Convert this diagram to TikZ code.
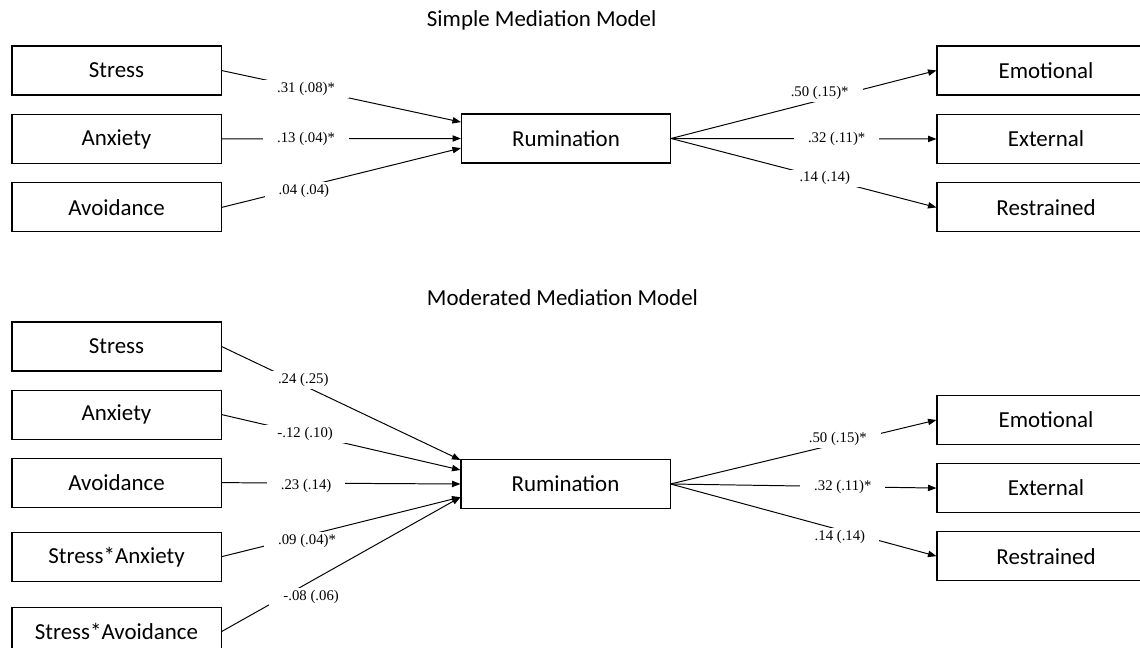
\documentclass[tikz,border=0pt]{standalone}
\usepackage{fontspec}
\setmainfont{Carlito}
\newfontfamily\coeffont{Liberation Serif}
\usetikzlibrary{arrows.meta, positioning}
\tikzset{
    box/.style={
        rectangle,
        draw=black,
        line width=0.75pt,
        minimum width=5.225cm,
        minimum height=1.225cm,
        fill=white,
        font=\fontsize{16.3}{19}\selectfont
    },
    outbox/.style={
        box,
        minimum width=5.45cm
    },
    heading/.style={
        anchor=west,
        font=\fontsize{16.3}{19}\selectfont
    },
    wire/.style={
        draw=black,
        line width=0.7pt,
        -{Triangle[length=6pt,width=4.5pt]}
    },
    coef/.style={
        fill=white,
        inner xsep=0.35cm,
        inner ysep=1.5pt,
        font=\coeffont\fontsize{10.5}{12}\selectfont
    }
}

\begin{document}
\begin{tikzpicture}[x=0.025cm, y=-0.025cm]
\useasboundingbox (0,0) rectangle (1140,648);
\clip (0,0) rectangle (1140,648);

% Simple mediation model
\node[heading] (title1) at (422,20) {Simple Mediation Model};

\node[box] (str1) at (116.5,70.5) {Stress};
\node[box, below=0.46cm of str1] (anx1) {Anxiety};
\node[box, below=0.46cm of anx1] (avo1) {Avoidance};

\node[box] (rum1) at (566,138.5) {Rumination};

\node[outbox] (emo1) at (1046,70.5) {Emotional};
\node[outbox, below=0.46cm of emo1] (ext1) {External};
\node[outbox, below=0.46cm of ext1] (res1) {Restrained};

\draw[wire] (str1.east) -- node[coef, pos=0.353] {.31 (.08)*} ([yshift=0.41cm]rum1.west);
\draw[wire] (anx1.east) -- node[coef, pos=0.353] {.13 (.04)*} (rum1.west);
\draw[wire] (avo1.east) -- node[coef, pos=0.344, yshift=-0.1cm] {.04 (.04)} ([yshift=-0.24cm]rum1.west);

\draw[wire] (rum1.east) -- node[coef, pos=0.56, yshift=0.175cm] {.50 (.15)*} (emo1.west);
\draw[wire] (rum1.east) -- node[coef, pos=0.624] {.32 (.11)*} (ext1.west);
\draw[wire] (rum1.east) -- node[coef, pos=0.579] {.14 (.14)} (res1.west);

% Moderated mediation model
\node[heading] (title2) at (422,298) {Moderated Mediation Model};

\node[box] (str2) at (116.5,346.5) {Stress};
\node[box, below=0.45cm of str2] (anx2) {Anxiety};
\node[box, below=0.45cm of anx2] (avo2) {Avoidance};
\node[box, below=0.6cm of avo2] (sxa2) {Stress*Anxiety};
\node[box, below=0.62cm of sxa2] (sxv2) {Stress*Avoidance};

\node[box] (rum2) at (565.5,484) {Rumination};

\node[outbox] (emo2) at (1046,420) {Emotional};
\node[outbox, below=0.45cm of emo2] (ext2) {External};
\node[outbox, below=0.45cm of ext2] (res2) {Restrained};

\draw[wire] (str2.east) -- node[coef, pos=0.342, yshift=0.13cm] {.24 (.25)} ([yshift=0.6cm]rum2.west);
\draw[wire] (anx2.east) -- node[coef, pos=0.35] {-.12 (.10)} ([yshift=0.35cm]rum2.west);
\draw[wire] (avo2.east) -- node[coef, pos=0.354, yshift=-0.07cm] {.23 (.14)} (rum2.west);
\draw[wire] (sxa2.east) -- node[coef, pos=0.358, yshift=-0.13cm] {.09 (.04)*} ([yshift=-0.33cm]rum2.west);
\draw[wire] (sxv2.east) -- node[coef, pos=0.375, yshift=-0.4cm] {-.08 (.06)} ([yshift=-0.33cm]rum2.west);

\draw[wire] (rum2.east) -- node[coef, pos=0.629, yshift=0.12cm] {.50 (.15)*} (emo2.west);
\draw[wire] (rum2.east) -- node[coef, pos=0.648] {.32 (.11)*} (ext2.west);
\draw[wire] (rum2.east) -- node[coef, pos=0.637, yshift=-0.18cm] {.14 (.14)} (res2.west);

\end{tikzpicture}
\end{document}
